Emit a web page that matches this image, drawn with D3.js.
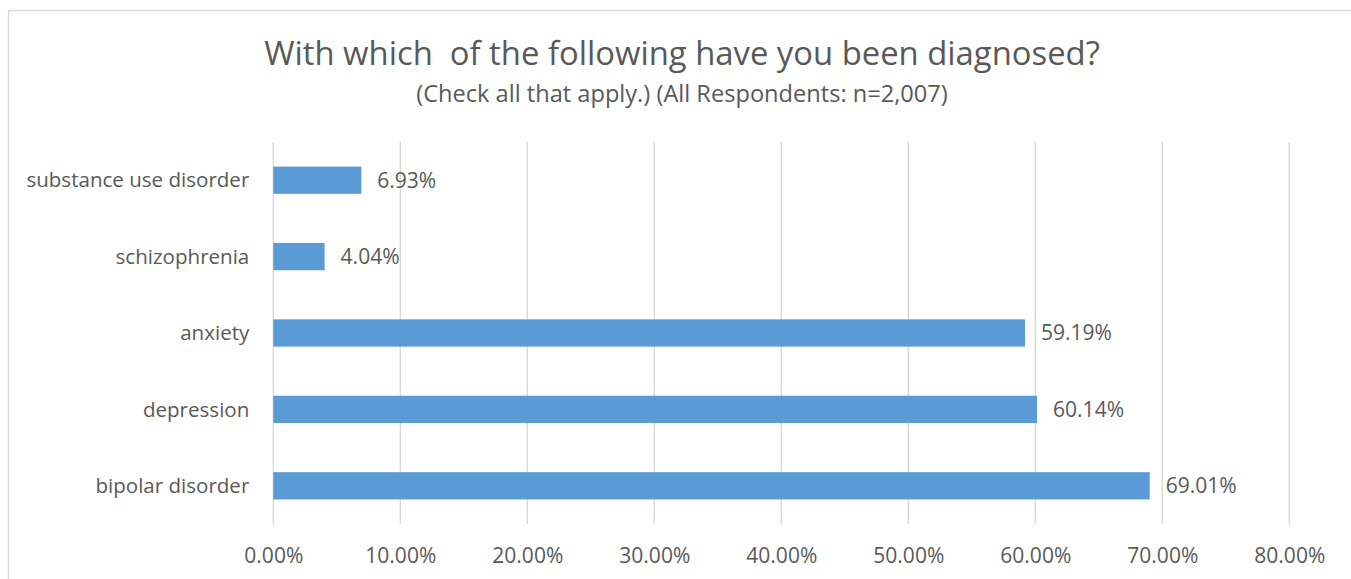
<!DOCTYPE html>
<html>
<head>
<meta charset="utf-8">
<script src="https://cdn.jsdelivr.net/npm/d3@7"></script>
<style>
  html, body { margin: 0; padding: 0; background: #fff; }
  svg { display: block; }
  text { font-family: "Open Sans", "Liberation Sans", sans-serif; fill: #595959; }
</style>
</head>
<body>
<svg id="chart" width="1351" height="579"></svg>
<script>
const titleText = "With which  of the following have you been diagnosed?";
const subtitleText = "(Check all that apply.) (All Respondents: n=2,007)";
const categories = ["substance use disorder", "schizophrenia", "anxiety", "depression", "bipolar disorder"];
const values = [6.93, 4.04, 59.19, 60.14, 69.01];
const xTicks = [0, 10, 20, 30, 40, 50, 60, 70, 80];

const svg = d3.select("#chart");
const W = 1351, H = 579;
const margin = { left: 273.3, right: W - 1289.3, top: 142, bottom: H - 524 };

// chart border (top & left visible)
svg.append("rect")
  .attr("x", 8.5).attr("y", 10.5)
  .attr("width", 1400).attr("height", 600)
  .attr("fill", "none").attr("stroke", "#d9d9d9").attr("stroke-width", 1.5);

const x = d3.scaleLinear().domain([0, 80]).range([margin.left, W - margin.right]);
const y = d3.scaleBand().domain(categories).range([margin.top, H - margin.bottom])
  .paddingInner(0.643).paddingOuter(0.3215);

function fit(sel, target) {
  const node = sel.node();
  const fs = parseFloat(sel.attr("font-size"));
  const w = node.getComputedTextLength();
  return fs * target / w;
}

// gridlines
svg.append("g").selectAll("line").data(xTicks).join("line")
  .attr("x1", d => x(d)).attr("x2", d => x(d))
  .attr("y1", margin.top).attr("y2", H - margin.bottom)
  .attr("stroke", "#d9d9d9").attr("stroke-width", 1.4);

// bars
svg.append("g").selectAll("rect").data(categories).join("rect")
  .attr("x", x(0))
  .attr("y", d => y(d))
  .attr("width", (d, i) => x(values[i]) - x(0))
  .attr("height", y.bandwidth())
  .attr("fill", "#5b9bd5");

// title
const title = svg.append("text").attr("x", 682).attr("y", 65)
  .attr("text-anchor", "middle").attr("font-size", 30).text(titleText)
  .style("white-space", "pre").attr("xml:space", "preserve");
title.attr("font-size", fit(title, 836));

const sub = svg.append("text").attr("x", 682).attr("y", 102)
  .attr("text-anchor", "middle").attr("font-size", 18).text(subtitleText);
sub.attr("font-size", fit(sub, 532));

// category axis labels
const probe = svg.append("text").attr("font-size", 20).text("substance use disorder");
const catFs = fit(probe, 223);
probe.remove();
const yAxis = d3.axisLeft(y).tickSize(0).tickPadding(24);
const gy = svg.append("g").attr("transform", `translate(${x(0)},0)`).call(yAxis);
gy.select(".domain").remove();
gy.selectAll("text").attr("font-size", catFs).attr("font-family", null).attr("fill", "#595959")
  .attr("dy", "0.35em");

// x axis labels
const probe2 = svg.append("text").attr("font-size", 20).text("70.00%");
const tickFs = fit(probe2, 71);
probe2.remove();
const xAxis = d3.axisBottom(x).tickValues(xTicks).tickSize(0).tickPadding(0)
  .tickFormat(d => d3.format(".2f")(d) + "%");
const gx = svg.append("g").attr("transform", `translate(0,${H - margin.bottom})`).call(xAxis);
gx.select(".domain").remove();
gx.selectAll("text").attr("font-size", tickFs).attr("font-family", null).attr("fill", "#595959")
  .attr("y", 39).attr("dy", null);

// value labels
svg.append("g").selectAll("text").data(categories).join("text")
  .attr("x", (d, i) => x(values[i]) + 16)
  .attr("y", d => y(d) + y.bandwidth() / 2)
  .attr("dy", "0.35em")
  .attr("font-size", tickFs)
  .text((d, i) => d3.format(".2f")(values[i]) + "%");
</script>
</body>
</html>
